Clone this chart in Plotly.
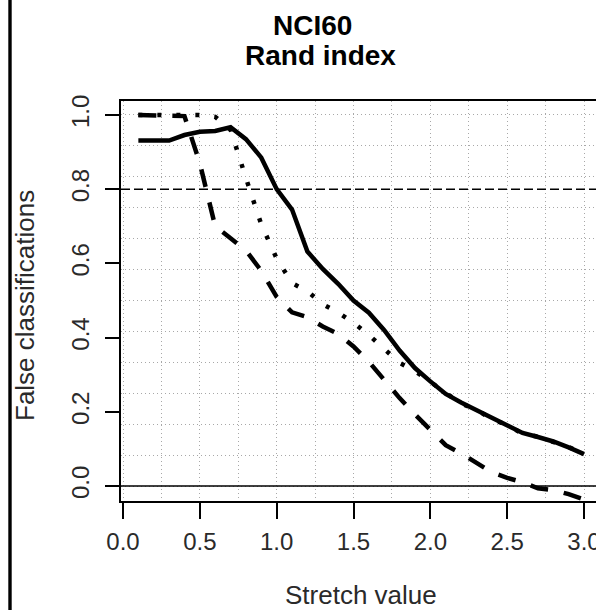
import plotly.graph_objects as go

stretch = [0.1, 0.2, 0.3, 0.4, 0.5, 0.6, 0.7, 0.8, 0.9, 1.0,
           1.1, 1.2, 1.3, 1.4, 1.5, 1.6, 1.7, 1.8, 1.9, 2.0,
           2.1, 2.2, 2.3, 2.4, 2.5, 2.6, 2.7, 2.8, 2.9, 3.0]
solid_vals = [0.931, 0.931, 0.931, 0.946, 0.955, 0.957, 0.967, 0.935, 0.885, 0.800,
              0.745, 0.632, 0.585, 0.545, 0.500, 0.467, 0.420, 0.365, 0.318, 0.282,
              0.248, 0.225, 0.204, 0.183, 0.162, 0.143, 0.132, 0.120, 0.104, 0.086]
dashed_vals = [1.0, 1.0, 1.0, 0.997, 0.87, 0.70, 0.668, 0.635, 0.58, 0.51,
               0.468, 0.455, 0.43, 0.41, 0.376, 0.335, 0.286, 0.237, 0.193, 0.153,
               0.11, 0.088, 0.062, 0.037, 0.022, 0.01, -0.006, -0.011, -0.022, -0.036]
dotted_vals = [1.0, 1.0, 1.0, 1.0, 1.0, 0.995, 0.96, 0.83, 0.705, 0.613,
               0.547, 0.525, 0.49, 0.468, 0.44, 0.407, 0.368, 0.332, 0.31, 0.28,
               0.25, 0.222, 0.206, 0.18, 0.164, 0.141, 0.133, 0.118, 0.105, 0.086]

x_ticks = [0.0, 0.5, 1.0, 1.5, 2.0, 2.5, 3.0]
x_tick_text = ["0.0", "0.5", "1.0", "1.5", "2.0", "2.5", "3.0"]
y_ticks = [0.0, 0.2, 0.4, 0.6, 0.8, 1.0]
y_tick_text = ["0.0", "0.2", "0.4", "0.6", "0.8", "1.0"]
x_grid = [0.0, 0.25, 0.5, 0.75, 1.0, 1.25, 1.5, 1.75, 2.0, 2.25, 2.5, 2.75, 3.0]
y_grid = [0/12, 1/12, 2/12, 3/12, 4/12, 5/12, 6/12, 7/12, 8/12, 9/12, 10/12, 11/12, 12/12]
ref_solid_y = 0.0
ref_dashed_y = 0.8

W, H = 596, 610
ML, MR, MT, MB = 121, 0, 101, 109
PW, PH = W - ML - MR, H - MT - MB

def px_x(p):
    return (p - ML) / PW

def px_y(p):
    return (H - MB - p) / PH

tick_font = dict(family="Liberation Sans, Arial", size=24, color="#2a2a2a")
grid_style = dict(gridcolor="#a8a8a8", gridwidth=1, griddash="1px,3px")

fig = go.Figure()

# grid carrier (invisible) for overlaid grid axes
fig.add_trace(go.Scatter(x=[x_grid[0]], y=[y_grid[0]], xaxis="x2", yaxis="y2",
                         mode="markers", marker=dict(opacity=0), showlegend=False,
                         hoverinfo="skip"))

fig.add_trace(go.Scatter(x=stretch, y=solid_vals, mode="lines",
                         line=dict(color="black", width=4.5), showlegend=False))
fig.add_trace(go.Scatter(x=stretch, y=dashed_vals, mode="lines",
                         line=dict(color="black", width=4.5, dash="18px,16px"), showlegend=False))
fig.add_trace(go.Scatter(x=stretch, y=dotted_vals, mode="lines",
                         line=dict(color="black", width=4.5, dash="4px,15px"), showlegend=False))

fig.add_hline(y=ref_solid_y, line=dict(color="black", width=1.5))
fig.add_hline(y=ref_dashed_y, line=dict(color="black", width=1.5, dash="9px,4px"))

xr = [-0.013, 3.078]
yr = [-0.0404, 1.0377]

fig.update_layout(
    width=W, height=H,
    margin=dict(l=ML, r=MR, t=MT, b=MB, pad=0, autoexpand=False),
    paper_bgcolor="white", plot_bgcolor="rgba(0,0,0,0)",
    xaxis=dict(range=xr, tickvals=x_ticks, ticktext=x_tick_text, ticks="outside",
               ticklen=16, tickwidth=1.5, tickcolor="black", showline=True,
               linecolor="black", linewidth=1.5, mirror=True, showgrid=False,
               zeroline=False, tickfont=tick_font, ticklabelstandoff=2,
               ticklabeloverflow="allow", automargin=False),
    yaxis=dict(range=yr, tickvals=y_ticks, ticktext=y_tick_text, ticks="outside",
               ticklen=14, tickwidth=1.5, tickcolor="black", showline=True,
               linecolor="black", linewidth=1.5, showgrid=False, zeroline=False,
               tickangle=-90, tickfont=tick_font, ticklabelstandoff=7,
               automargin=False),
    xaxis2=dict(range=xr, overlaying="x", tickvals=x_grid, showticklabels=False,
                ticks="", showgrid=True, zeroline=False, showline=False,
                automargin=False, **grid_style),
    yaxis2=dict(range=yr, overlaying="y", tickvals=y_grid, showticklabels=False,
                ticks="", showgrid=True, zeroline=False, showline=False,
                automargin=False, **grid_style),
    font=dict(family="Liberation Sans, Arial", color="black"),
)

title_font = dict(family="Liberation Sans, Arial", size=28, color="black")
fig.add_annotation(text="<b>NCI60</b>", xref="paper", yref="paper",
                   x=px_x(312), y=px_y(25), xanchor="center", yanchor="middle",
                   showarrow=False, font=title_font)
fig.add_annotation(text="<b>Rand index</b>", xref="paper", yref="paper",
                   x=px_x(320), y=px_y(56), xanchor="center", yanchor="middle",
                   showarrow=False, font=title_font)

fig.add_annotation(text="Stretch value", xref="paper", yref="paper",
                   x=px_x(361), y=px_y(595), xanchor="center", yanchor="middle",
                   showarrow=False,
                   font=dict(family="Liberation Sans, Arial", size=26, color="#2a2a2a"))
fig.add_annotation(text="False classifications", xref="paper", yref="paper",
                   x=px_x(25), y=px_y(306), xanchor="center", yanchor="middle",
                   textangle=-90, showarrow=False,
                   font=dict(family="Liberation Sans, Arial", size=26, color="#2a2a2a"))

# left border bar of the surrounding frame
fig.add_shape(type="rect", xref="paper", yref="paper",
              x0=px_x(8.3), x1=px_x(11.7), y0=px_y(H + 5), y1=px_y(-5),
              fillcolor="black", line=dict(width=0))

fig.write_html("out.html",
               config={"displayModeBar": False},
               post_script="document.body.style.margin='0px';"
                           "document.body.style.padding='0px';"
                           "document.documentElement.style.overflow='hidden';")
